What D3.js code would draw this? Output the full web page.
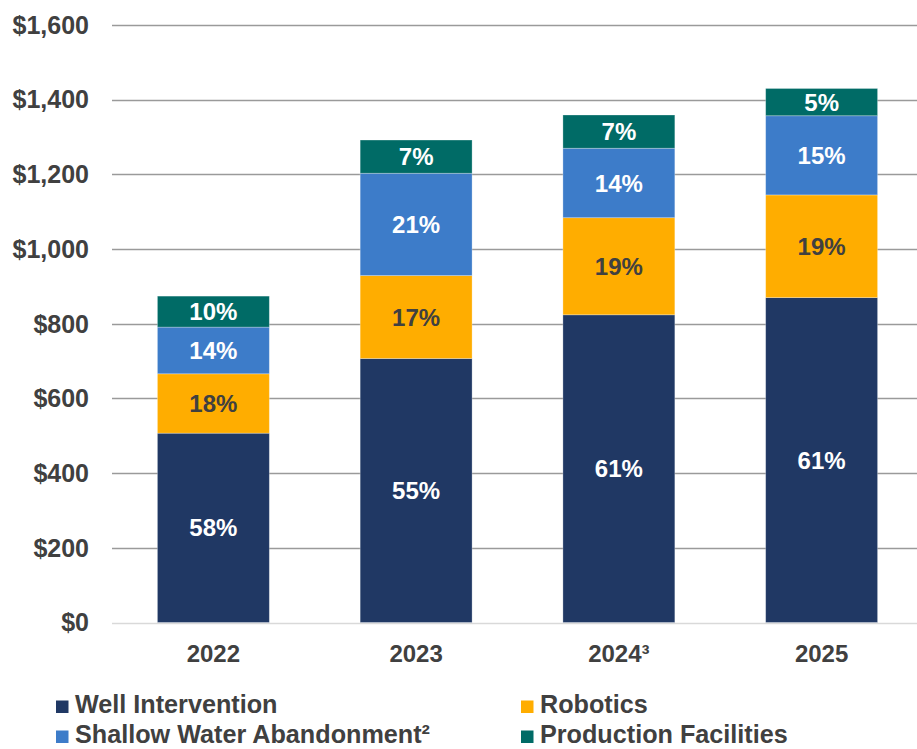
<!DOCTYPE html>
<html lang="en">
<head>
<meta charset="UTF-8">
<title>Revenue by Segment</title>
<script src="https://d3js.org/d3.v7.min.js"></script>
<style>
    body { margin: 0; padding: 0; background: #fff; overflow: hidden; }
    svg { display: block; font-family: "Liberation Sans", Arial, sans-serif; }
    .tick-label { font-size: 25px; font-weight: bold; fill: #404040; }
    .year-label { font-size: 24px; font-weight: bold; fill: #404040; }
    .bar-label { font-size: 24px; font-weight: bold; }
    .legend-label { font-size: 25.2px; font-weight: bold; fill: #404040; }
</style>
</head>
<body>
<svg id="chart" width="917" height="749"></svg>
<script>
    // Data (millions of $)
    var years = ['2022', '2023', '2024\u00B3', '2025'];
    var segments = ['Well Intervention', 'Robotics', 'Shallow Water Abandonment\u00B2', 'Production Facilities'];
    var colors = ['#203864', '#FFAD00', '#3D7CC9', '#006B66'];
    var labelColors = ['#ffffff', '#404040', '#ffffff', '#ffffff'];

    var wellIntervention = [507, 707, 824, 870];
    var robotics = [159, 222, 260, 275];
    var shallowWater = [125, 274, 186, 212];
    var productionFacilities = [83, 89, 89, 73];

    var wellPct = ['58%', '55%', '61%', '61%'];
    var roboticsPct = ['18%', '17%', '19%', '19%'];
    var shallowPct = ['14%', '21%', '14%', '15%'];
    var productionPct = ['10%', '7%', '7%', '5%'];

    var yTicks = [0, 200, 400, 600, 800, 1000, 1200, 1400, 1600];

    var seriesValues = [wellIntervention, robotics, shallowWater, productionFacilities];
    var seriesLabels = [wellPct, roboticsPct, shallowPct, productionPct];

    var svg = d3.select('#chart');

    var x = d3.scaleBand().domain(years).range([112, 923]).padding(0);
    var barW = x.bandwidth() * 0.552;
    var y = d3.scaleLinear().domain([0, 1600]).range([622.5, 25]);

    // Gridlines
    svg.append('g')
        .selectAll('line')
        .data(yTicks)
        .enter().append('line')
        .attr('x1', 112)
        .attr('x2', 917)
        .attr('y1', function(d) { return Math.round(y(d)) + 0.5; })
        .attr('y2', function(d) { return Math.round(y(d)) + 0.5; })
        .attr('stroke', function(d) { return d === 0 ? '#d9d9d9' : '#9a9a9a'; })
        .attr('stroke-width', 1.3);

    // Y tick labels
    var fmt = d3.format(',');
    svg.append('g')
        .selectAll('text')
        .data(yTicks)
        .enter().append('text')
        .attr('class', 'tick-label')
        .attr('x', 89)
        .attr('y', function(d) { return y(d); })
        .attr('dy', '0.35em')
        .attr('text-anchor', 'end')
        .text(function(d) { return '$' + fmt(d); });

    // Build stacked rows
    var rows = years.map(function(yr, i) {
        var r = { year: yr };
        segments.forEach(function(s, k) { r[s] = seriesValues[k][i]; });
        return r;
    });
    var stack = d3.stack().keys(segments)(rows);

    var layers = svg.append('g')
        .selectAll('g')
        .data(stack)
        .enter().append('g')
        .attr('fill', function(d, k) { return colors[k]; });

    layers.selectAll('rect')
        .data(function(d) { return d; })
        .enter().append('rect')
        .attr('x', function(d) { return x(d.data.year) + (x.bandwidth() - barW) / 2; })
        .attr('width', barW)
        .attr('y', function(d) { return y(d[1]); })
        .attr('height', function(d) { return y(d[0]) - y(d[1]); })
        .attr('stroke', 'rgba(255,255,255,0.35)')
        .attr('stroke-width', 0.8);

    // Percentage labels
    stack.forEach(function(layer, k) {
        svg.append('g')
            .selectAll('text')
            .data(layer)
            .enter().append('text')
            .attr('class', 'bar-label')
            .attr('fill', labelColors[k])
            .attr('text-anchor', 'middle')
            .attr('x', function(d) { return x(d.data.year) + x.bandwidth() / 2; })
            .attr('y', function(d) { return (y(d[0]) + y(d[1])) / 2; })
            .attr('dy', '0.36em')
            .text(function(d, i) { return seriesLabels[k][i]; });
    });

    // X axis labels
    svg.append('g')
        .selectAll('text')
        .data(years)
        .enter().append('text')
        .attr('class', 'year-label')
        .attr('x', function(d) { return x(d) + x.bandwidth() / 2; })
        .attr('y', 662)
        .attr('text-anchor', 'middle')
        .text(function(d) { return d; });

    // Legend (2 columns x 2 rows)
    var legendPos = [[56, 713], [521, 713], [56, 743], [521, 743]];
    var legend = svg.append('g')
        .selectAll('g')
        .data(segments)
        .enter().append('g')
        .attr('transform', function(d, k) { return 'translate(' + legendPos[k][0] + ',' + legendPos[k][1] + ')'; });

    legend.append('rect')
        .attr('x', 0)
        .attr('y', -12.5)
        .attr('width', 12.5)
        .attr('height', 12.5)
        .attr('fill', function(d, k) { return colors[k]; });

    legend.append('text')
        .attr('class', 'legend-label')
        .attr('x', 19)
        .attr('y', 0)
        .text(function(d) { return d; });
</script>
</body>
</html>
